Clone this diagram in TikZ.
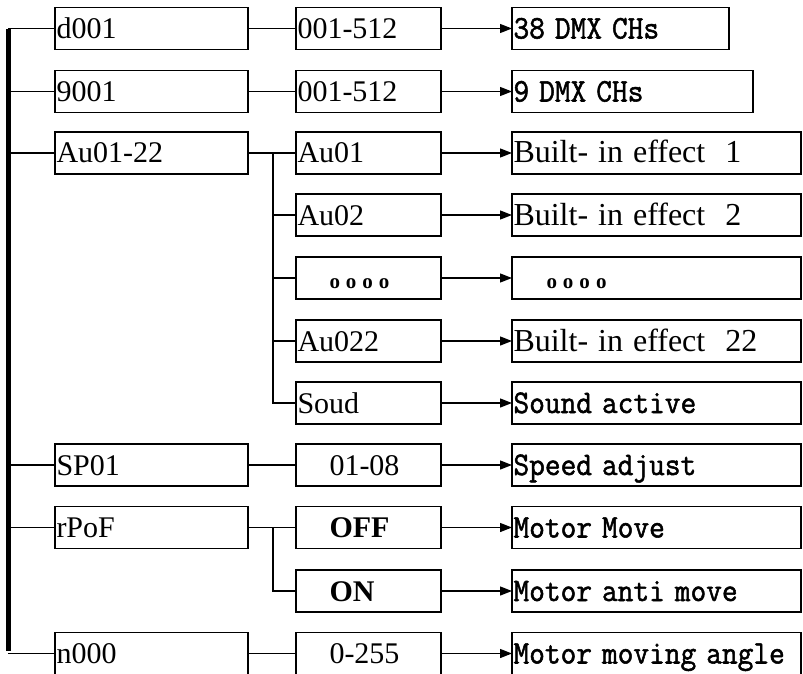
\documentclass[tikz,border=0pt]{standalone}
\usepackage{fontspec}
\setmainfont{Liberation Serif}
\newfontfamily\monof[FakeBold=1.6]{Latin Modern Mono}
\usetikzlibrary{arrows.meta}
\newcommand{\mtxt}[1]{\scalebox{1}[1.08]{\fontsize{30.5}{30.5}\selectfont\monof #1}}
\newcommand{\dotsrow}{{\fontsize{21}{21}\selectfont\bfseries o\hspace{6pt}o\hspace{6pt}o\hspace{6pt}o}}
\begin{document}
\begin{tikzpicture}[x=1pt,y=-1pt,
  box/.style={draw, line width=1.4pt, rectangle, inner xsep=1.5pt, inner ysep=0pt,
     outer sep=0pt, minimum height=42pt, text height=24pt, text depth=4pt, align=left, anchor=west,
     font=\fontsize{30}{30}\selectfont},
  colA/.style={box, text width=190pt},
  colB/.style={box, text width=142pt},
  colC/.style={box, text width=214pt},
  colD/.style={box, text width=238pt},
  colE/.style={box, text width=286pt},
  ln/.style={line width=1.3pt},
  arr/.style={line width=1.3pt, -{Triangle[length=12pt,width=9pt]}},
  bar/.style={line width=5pt}]
\useasboundingbox (0,0) rectangle (803,674);
% column 1
\node[colA] (a1) at (55,28.5) {d001};
\node[colA] (a2) at (55,91.5) {9001};
\node[colA] (a3) at (55,153) {Au01-22};
\node[colA] (a8) at (55,465) {SP01};
\node[colA] (a9) at (55,527.5) {rPoF};
\node[colA] (a11) at (55,653.5) {n000};
% column 2
\node[colB] (b1) at (296,28.5) {001-512};
\node[colB] (b2) at (296,91.5) {001-512};
\node[colB] (b3) at (296,153) {Au01};
\node[colB] (b4) at (296,215) {Au02};
\node[colB] (b5) at (296,278) {\hspace*{32pt}\dotsrow};
\node[colB] (b6) at (296,341) {Au022};
\node[colB] (b7) at (296,403) {Soud};
\node[colB] (b8) at (296,465) {\hspace*{32pt}01-08};
\node[colB] (b9) at (296,527.5) {\hspace*{32pt}\textbf{OFF}};
\node[colB] (b10) at (296,591) {\hspace*{32pt}\textbf{ON}};
\node[colB] (b11) at (296,653.5) {\hspace*{32pt}0-255};
% column 3
\node[colC] (c1) at (512,28.5) {\mtxt{38 DMX CHs}};
\node[colD] (c2) at (512,91.5) {\mtxt{9 DMX CHs}};
\node[colE] (c3) at (512,153) {{\fontsize{32}{32}\selectfont Built- in effect\ \ 1}};
\node[colE] (c4) at (512,215) {{\fontsize{32}{32}\selectfont Built- in effect\ \ 2}};
\node[colE] (c5) at (512,278) {\hspace*{33pt}\dotsrow};
\node[colE] (c6) at (512,341) {{\fontsize{32}{32}\selectfont Built- in effect\ \ 22}};
\node[colE] (c7) at (512,403) {\mtxt{Sound active}};
\node[colE] (c8) at (512,465) {\mtxt{Speed adjust}};
\node[colE] (c9) at (512,527.5) {\mtxt{Motor Move}};
\node[colE] (c10) at (512,591) {\mtxt{Motor anti move}};
\node[colE] (c11) at (512,653.5) {\mtxt{Motor moving angle}};
% main bar
\coordinate (bar) at (8,28.5);
\coordinate (barend) at (8,653.5);
\draw[bar] ([yshift=-0.7pt]bar) -- ([yshift=2.5pt]barend);
\foreach \n in {a1,a2,a3,a8,a9,a11}
  \draw[ln] (\n.west -| bar) -- (\n.west);
% column 1 to column 2
\draw[ln] (a1.east) -- (b1.west);
\draw[ln] (a2.east) -- (b2.west);
\draw[ln] (a8.east) -- (b8.west);
\draw[ln] (a11.east) -- (b11.west);
\coordinate (j) at (273,0);
\draw[ln] (a3.east) -- (j |- a3.east) -- (j |- b7.west) -- (b7.west);
\foreach \n in {b3,b4,b5,b6}
  \draw[ln] (j |- \n.west) -- (\n.west);
\draw[ln] (a9.east) -- (j |- a9.east) -- (j |- b10.west) -- (b10.west);
\draw[ln] (j |- b9.west) -- (b9.west);
% column 2 to column 3
\foreach \i in {1,...,11}
  \draw[arr] (b\i.east) -- (c\i.west);
\end{tikzpicture}
\end{document}
